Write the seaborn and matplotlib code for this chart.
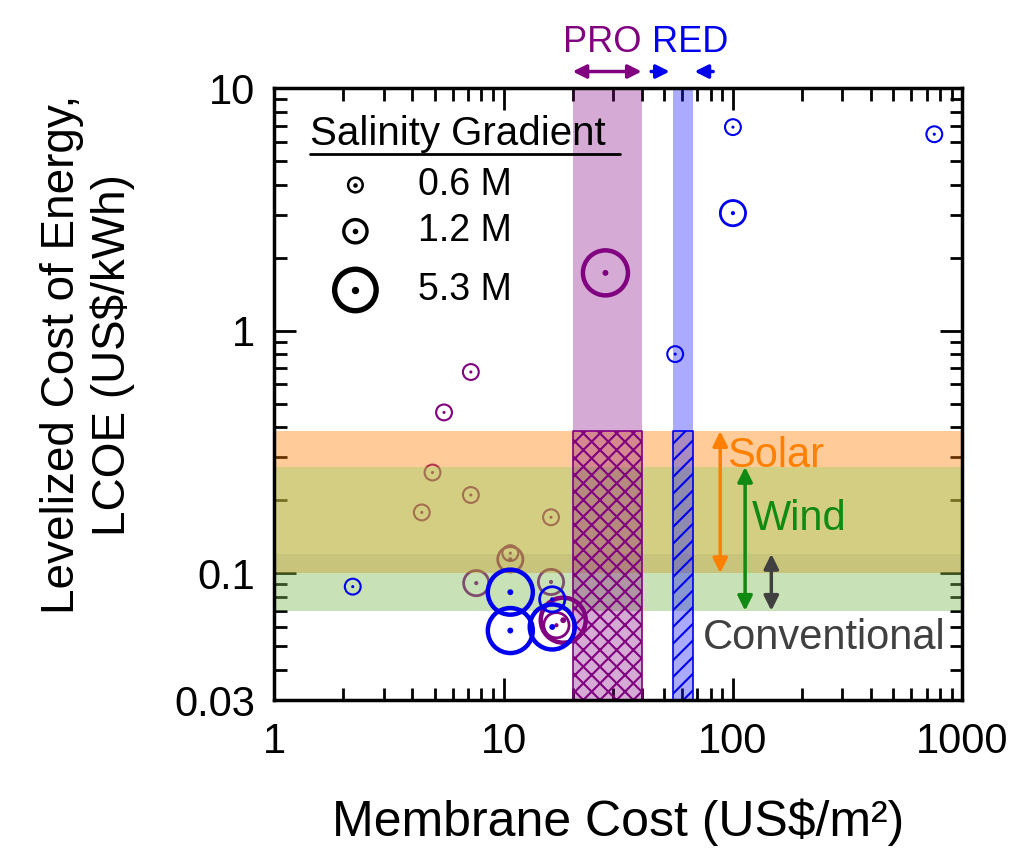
import numpy as np
import pandas as pd
import seaborn as sns
import matplotlib.pyplot as plt
from matplotlib.ticker import FixedLocator, LogLocator, NullFormatter

# --- data ---
pro_cost = [7.2, 5.5, 4.9, 7.2, 4.4, 16.1, 10.7, 10.7, 7.6, 16.1, 27.8, 18.2, 17.0]
pro_lcoe = [0.675, 0.46, 0.26, 0.21, 0.178, 0.17, 0.121, 0.114, 0.091, 0.092, 1.73, 0.064, 0.061]
pro_salinity = [0.6, 0.6, 0.6, 0.6, 0.6, 0.6, 0.6, 1.2, 1.2, 1.2, 5.3, 5.3, 1.2]

red_cost = [2.2, 100, 755, 56, 100, 10.7, 10.7, 16.3, 16.3]
red_lcoe = [0.088, 6.9, 6.45, 0.80, 3.05, 0.0835, 0.058, 0.078, 0.060]
red_salinity = [0.6, 0.6, 0.6, 0.6, 1.2, 5.3, 5.3, 1.2, 5.3]

salinity_levels = [0.6, 1.2, 5.3]
salinity_labels = ["0.6 M", "1.2 M", "5.3 M"]

# LCOE ranges of other technologies (US$/kWh)
tech_names = ["Solar", "Wind", "Conventional"]
tech_low = [0.1, 0.07, 0.07]
tech_high = [0.385, 0.274, 0.12]

# membrane cost ranges needed to be competitive (US$/m2)
pro_range = [20, 40]
red_range = [55, 67]

purple = "#800080"
blue = "#0000ee"
ring_size = {0.6: 130, 1.2: 330, 5.3: 1050}
ring_lw = {0.6: 1.5, 1.2: 2.0, 5.3: 3.2}
dot_size = {0.6: 5, 1.2: 9, 5.3: 18}

df = pd.concat([
    pd.DataFrame({"cost": pro_cost, "lcoe": pro_lcoe, "salinity": pro_salinity, "process": "PRO"}),
    pd.DataFrame({"cost": red_cost, "lcoe": red_lcoe, "salinity": red_salinity, "process": "RED"}),
])

sns.set_theme(style="ticks")
plt.rcParams['font.family'] = ['Liberation Sans', 'DejaVu Sans']
plt.rcParams['hatch.linewidth'] = 1.5
for key in ['text.color', 'axes.labelcolor', 'xtick.color', 'ytick.color']:
    plt.rcParams[key] = 'black'

fig = plt.figure(figsize=(10.27, 8.49), dpi=100)
ax = fig.add_axes([0.267, 0.1755, 0.67, 0.7208])
ax.set_xscale("log")
ax.set_yscale("log")
ax.set_xlim(1, 1000)
ax.set_ylim(0.03, 10)

# points: small PRO rings sit below the shaded bands, the rest above
for proc, color in [("PRO", purple), ("RED", blue)]:
    for sal in salinity_levels:
        sub = df[(df.process == proc) & (df.salinity == sal)]
        if sub.empty:
            continue
        z = 2 if (proc == "PRO" and sal < 5) else 7
        sns.scatterplot(data=sub, x="cost", y="lcoe", s=ring_size[sal], facecolor="none",
                        edgecolor=color, linewidth=ring_lw[sal], zorder=z, ax=ax, legend=False)
        sns.scatterplot(data=sub, x="cost", y="lcoe", s=dot_size[sal], color=color,
                        edgecolor="none", linewidth=0, zorder=z, ax=ax, legend=False)

# technology bands
tech_colors = ["#ff8000", "#8cd25a", "#303030"]
tech_alpha = [0.4, 0.38, 0.06]
for lo, hi, c, a in zip(tech_low, tech_high, tech_colors, tech_alpha):
    ax.axhspan(lo, hi, color=c, alpha=a, lw=0, zorder=3)

# PRO / RED membrane cost bands
ax.axvspan(*pro_range, color=purple, alpha=0.33, lw=0, zorder=4)
ax.axvspan(*red_range, color="#2020ff", alpha=0.38, lw=0, zorder=4)
cap = max(tech_high)
ax.fill_between(pro_range, 0.03, cap, facecolor="none", edgecolor=purple, hatch="xx", lw=1.2, zorder=5)
ax.fill_between(red_range, 0.03, cap, facecolor="none", edgecolor=blue, hatch="//", lw=1.2, zorder=5)

# range arrows and labels on the right
arrow_x = [88, 113, 147]
arrow_colors = ["#ff8000", "#108a10", "#404040"]
for xa, lo, hi, c in zip(arrow_x, tech_low, tech_high, arrow_colors):
    ax.annotate("", xy=(xa, lo), xytext=(xa, hi),
                arrowprops=dict(arrowstyle="<|-|>", color=c, lw=2.5, mutation_scale=22,
                                shrinkA=0, shrinkB=0), zorder=8)
ax.text(94, 0.305, "Solar", color="#ff8000", fontsize=30, va="center", ha="left", zorder=8)
ax.text(121, 0.168, "Wind", color="#108a10", fontsize=30, va="center", ha="left", zorder=8)
ax.text(74, 0.054, "Conventional", color="#404040", fontsize=30, va="center", ha="left", zorder=8)

# PRO / RED labels above the axes
trans = ax.get_xaxis_transform()
ax.text(27, 1.075, "PRO", color=purple, fontsize=26, ha="center", va="center", transform=trans)
ax.text(65, 1.075, "RED", color=blue, fontsize=26, ha="center", va="center", transform=trans)
ax.annotate("", xy=(pro_range[0], 1.027), xytext=(pro_range[1], 1.027), xycoords=trans,
            textcoords=trans, annotation_clip=False,
            arrowprops=dict(arrowstyle="<|-|>", color=purple, lw=2.5, mutation_scale=20,
                            shrinkA=0, shrinkB=0))
ax.annotate("", xy=(53, 1.027), xytext=(44, 1.027), xycoords=trans, textcoords=trans,
            annotation_clip=False,
            arrowprops=dict(arrowstyle="-|>", color=blue, lw=2.5, mutation_scale=20, shrinkA=0, shrinkB=0))
ax.annotate("", xy=(68, 1.027), xytext=(82, 1.027), xycoords=trans, textcoords=trans,
            annotation_clip=False,
            arrowprops=dict(arrowstyle="-|>", color=blue, lw=2.5, mutation_scale=20, shrinkA=0, shrinkB=0))

# salinity legend
ax.text(0.052, 0.925, "Salinity Gradient", fontsize=29, transform=ax.transAxes, va="center", zorder=9)
ax.plot([0.052, 0.503], [0.893, 0.893], color="black", lw=2, transform=ax.transAxes, zorder=9)
leg_y = [0.8415, 0.766, 0.670]
for sal, lab, yy in zip(salinity_levels, salinity_labels, leg_y):
    ax.scatter([0.118], [yy], s=ring_size[sal] * 0.85, facecolor="none", edgecolor="black",
               linewidth=ring_lw[sal] * 1.2, transform=ax.transAxes, zorder=9)
    ax.scatter([0.118], [yy], s=dot_size[sal], color="black", transform=ax.transAxes, zorder=9)
    ax.text(0.209, yy, lab, fontsize=27, va="center", transform=ax.transAxes, zorder=9)

# axes styling
ax.xaxis.set_major_locator(FixedLocator([1, 10, 100, 1000]))
ax.set_xticklabels(["1", "10", "100", "1000"])
ax.xaxis.set_minor_locator(LogLocator(base=10, subs=np.arange(2, 10)))
ax.xaxis.set_minor_formatter(NullFormatter())
ax.yaxis.set_major_locator(FixedLocator([0.03, 0.1, 1, 10]))
ax.set_yticklabels(["0.03", "0.1", "1", "10"])
ax.yaxis.set_minor_locator(LogLocator(base=10, subs=np.arange(2, 10)))
ax.yaxis.set_minor_formatter(NullFormatter())
ax.tick_params(which="both", direction="in", top=True, right=True, width=2, colors="black")
ax.tick_params(which="major", length=16, labelsize=30)
ax.tick_params(which="minor", length=9)
ax.tick_params(axis="x", which="major", pad=16)
ax.tick_params(axis="y", which="major", pad=14)
for sp in ax.spines.values():
    sp.set_linewidth(2.5)
    sp.set_color("black")
    sp.set_zorder(10)

ax.set_xlabel("Membrane Cost (US$/m²)", fontsize=36, labelpad=26)
ax.set_ylabel("Levelized Cost of Energy,\nLCOE (US$/kWh)", fontsize=33, linespacing=1.2)
ax.yaxis.set_label_coords(-0.202, 0.564)

fig.savefig("out.png", dpi=100)
